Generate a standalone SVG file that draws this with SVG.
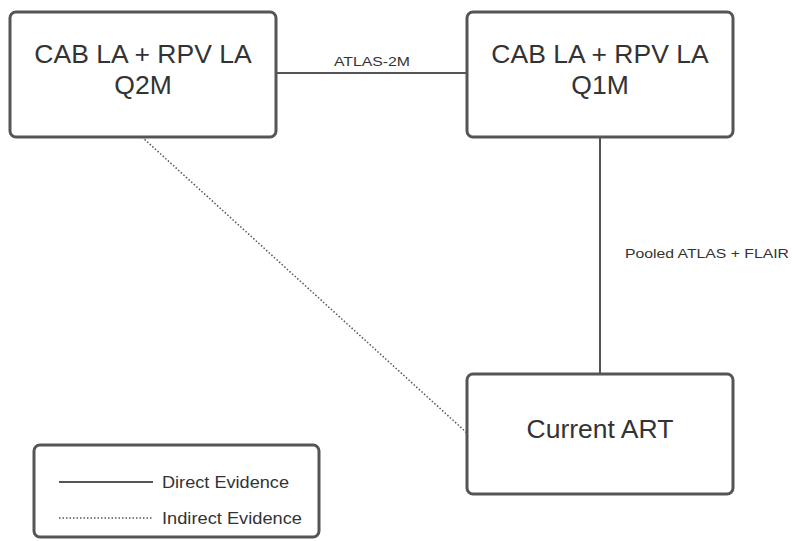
<svg xmlns="http://www.w3.org/2000/svg" width="792" height="541" viewBox="0 0 792 541">
<style>
.box{fill:#fff;stroke:#555;stroke-width:3}
.t{font-family:"Liberation Sans",Arial,sans-serif;fill:#333;text-anchor:middle}
.big{font-size:26.5px}
.sm{font-size:13.5px}
.lg{font-size:17px;text-anchor:start}
.solid{stroke:#555;stroke-width:2;fill:none}
.dot{stroke:#555;stroke-width:1.5;stroke-dasharray:1.5 2;fill:none}
</style>
<rect width="792" height="541" fill="#fff"/>
<g id="connectors">
<line class="solid" x1="276" y1="73" x2="467" y2="73"/>
<line class="solid" x1="600" y1="137" x2="600" y2="374"/>
<line class="dot" x1="142" y1="137" x2="467" y2="433"/>
<text class="t sm" x="372" y="66" textLength="76" lengthAdjust="spacingAndGlyphs">ATLAS-2M</text>
<text class="t sm" x="625" y="258" style="text-anchor:start" textLength="164" lengthAdjust="spacingAndGlyphs">Pooled ATLAS + FLAIR</text>
</g>
<g id="q2m">
<rect class="box" x="10" y="12" width="266" height="125" rx="6"/>
<text class="t big" x="143" y="63">CAB LA + RPV LA</text>
<text class="t big" x="143" y="94">Q2M</text>
</g>
<g id="q1m">
<rect class="box" x="467" y="12" width="266" height="125" rx="6"/>
<text class="t big" x="600" y="63">CAB LA + RPV LA</text>
<text class="t big" x="600" y="94">Q1M</text>
</g>
<g id="current">
<rect class="box" x="467" y="374" width="266" height="120" rx="6"/>
<text class="t big" x="600" y="438">Current ART</text>
</g>
<g id="legend">
<rect class="box" x="34" y="445" width="285" height="92" rx="6"/>
<line class="solid" x1="59" y1="482" x2="153" y2="482"/>
<text class="t lg" x="162" y="488" textLength="127" lengthAdjust="spacingAndGlyphs">Direct Evidence</text>
<line class="dot" x1="59" y1="518" x2="153" y2="518"/>
<text class="t lg" x="162" y="524" textLength="140" lengthAdjust="spacingAndGlyphs">Indirect Evidence</text>
</g>
</svg>
